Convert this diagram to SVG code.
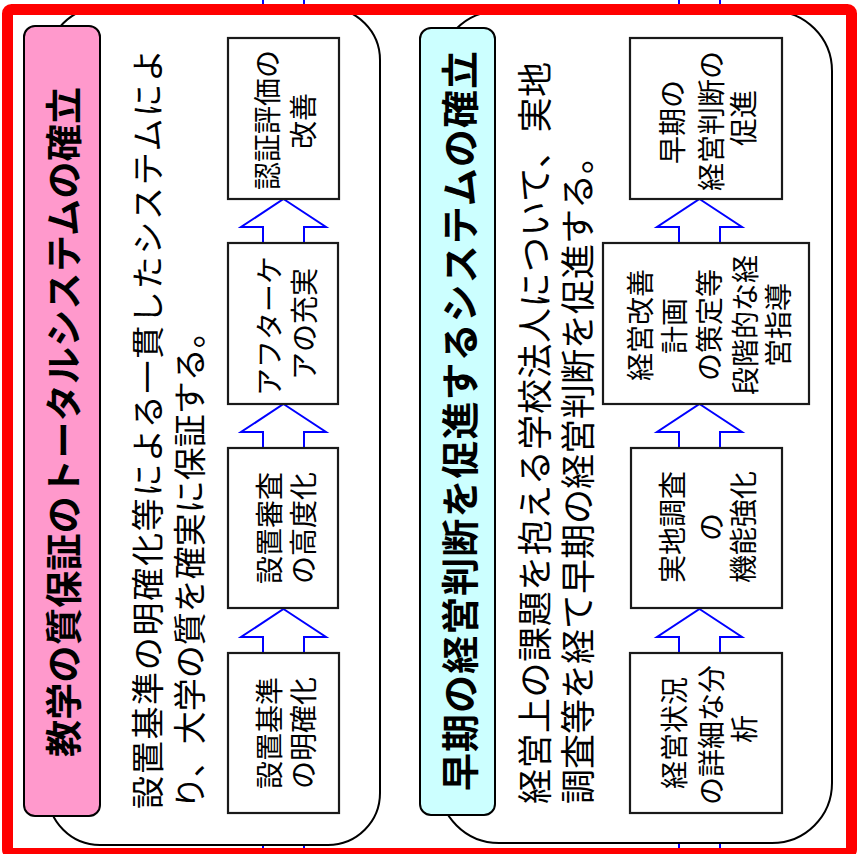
<svg xmlns="http://www.w3.org/2000/svg" width="858" height="854" viewBox="0 0 858 854">
<style>
.panel{fill:#fff;stroke:#000;stroke-width:2}
.box{fill:#fff;stroke:#1a1a1a;stroke-width:2.2}
.arrow{fill:#fff;stroke:#0000ff;stroke-width:2}
.stub{stroke:#0000ff;stroke-width:2}
.t{font-family:"Noto Sans CJK JP","Noto Sans CJK SC",sans-serif;fill:#000;dominant-baseline:central}
.title{font-size:37px;font-weight:700;text-anchor:middle}
.body{font-size:33px;text-anchor:start}
.bt{font-size:28px;text-anchor:middle}
</style>
<defs>
<path id="arr" class="arrow" d="M0,0 L42.5,28 L20.5,28 L20.5,44 L-20.5,44 L-20.5,28 L-42.5,28 Z"/>
</defs>
<rect width="858" height="854" fill="#fff"/>
<g id="stubs">
<line class="stub" x1="263" y1="0" x2="263" y2="16"/>
<line class="stub" x1="304" y1="0" x2="304" y2="16"/>
<line class="stub" x1="263" y1="838" x2="263" y2="854"/>
<line class="stub" x1="304" y1="838" x2="304" y2="854"/>
<line class="stub" x1="679" y1="0" x2="679" y2="16"/>
<line class="stub" x1="720" y1="0" x2="720" y2="16"/>
<line class="stub" x1="679" y1="838" x2="679" y2="854"/>
<line class="stub" x1="720" y1="838" x2="720" y2="854"/>
</g>
<g id="panel-left">
<rect class="panel" x="48" y="8" width="332" height="837" rx="52" ry="52"/>
</g>
<g id="panel-right">
<rect class="panel" x="439" y="11" width="393" height="832" rx="60" ry="60"/>
</g>
<g id="title-left">
<rect x="24" y="26" width="76" height="790" rx="11" ry="11" fill="#ff99cc" stroke="#000" stroke-width="2"/>
<text class="t title" transform="translate(62,422) rotate(-90)" textLength="670" lengthAdjust="spacing">教学の質保証のトータルシステムの確立</text>
</g>
<g id="title-right">
<rect x="420" y="28" width="75" height="787" rx="11" ry="11" fill="#ccffff" stroke="#000" stroke-width="2"/>
<text class="t title" style="font-size:38px" transform="translate(457,421) rotate(-90)" textLength="740" lengthAdjust="spacing">早期の経営判断を促進するシステムの確立</text>
</g>
<g id="desc-left">
<text class="t body" transform="translate(146,809) rotate(-90)" textLength="760" lengthAdjust="spacing">設置基準の明確化等による一貫したシステムによ</text>
<text class="t body" transform="translate(188,809) rotate(-90)">り、大学の質を確実に保証する。</text>
</g>
<g id="desc-right">
<text class="t body" style="font-size:35px" transform="translate(532,804) rotate(-90)" textLength="742" lengthAdjust="spacing">経営上の課題を抱える学校法人について、実地</text>
<text class="t body" style="font-size:35px" transform="translate(575,804) rotate(-90)">調査等を経て早期の経営判断を促進する。</text>
</g>
<g id="connectors">
<use href="#arr" transform="translate(283.5,609)"/>
<use href="#arr" transform="translate(283.5,404)"/>
<use href="#arr" transform="translate(283.5,199)"/>
<use href="#arr" transform="translate(699.5,609)"/>
<use href="#arr" transform="translate(699.5,404)"/>
<use href="#arr" transform="translate(699.5,199)"/>
</g>
<g id="box-l1">
<rect class="box" x="228" y="653" width="111" height="160"/>
<text class="t bt" transform="translate(268,733) rotate(-90)">設置基準</text>
<text class="t bt" transform="translate(302,733) rotate(-90)">の明確化</text>
</g>
<g id="box-l2">
<rect class="box" x="228" y="448" width="110" height="160"/>
<text class="t bt" transform="translate(268,528) rotate(-90)">設置審査</text>
<text class="t bt" transform="translate(302,528) rotate(-90)">の高度化</text>
</g>
<g id="box-l3">
<rect class="box" x="228" y="243" width="110" height="161"/>
<text class="t bt" transform="translate(268,326) rotate(-90)">アフターケ</text>
<text class="t bt" transform="translate(303,324) rotate(-90)">アの充実</text>
</g>
<g id="box-l4">
<rect class="box" x="228" y="38" width="111" height="161"/>
<text class="t bt" transform="translate(266,120) rotate(-90)">認証評価の</text>
<text class="t bt" transform="translate(302,121) rotate(-90)">改善</text>
</g>
<g id="box-r1">
<rect class="box" x="630" y="653" width="152" height="160"/>
<text class="t bt" transform="translate(673,733) rotate(-90)">経営状況</text>
<text class="t bt" transform="translate(710,735) rotate(-90)">の詳細な分</text>
<text class="t bt" transform="translate(743,729) rotate(-90)">析</text>
</g>
<g id="box-r2">
<rect class="box" x="631" y="448" width="151" height="160"/>
<text class="t bt" transform="translate(671,527) rotate(-90)">実地調査</text>
<text class="t bt" transform="translate(710,527) rotate(-90)">の</text>
<text class="t bt" transform="translate(742,527) rotate(-90)">機能強化</text>
</g>
<g id="box-r3">
<rect class="box" x="603" y="243" width="206" height="161"/>
<text class="t bt" transform="translate(639,325) rotate(-90)">経営改善</text>
<text class="t bt" transform="translate(673,326) rotate(-90)">計画</text>
<text class="t bt" transform="translate(708,325) rotate(-90)">の策定等</text>
<text class="t bt" transform="translate(744,325) rotate(-90)">段階的な経</text>
<text class="t bt" transform="translate(777,325) rotate(-90)">営指導</text>
</g>
<g id="box-r4">
<rect class="box" x="630" y="38" width="152" height="161"/>
<text class="t bt" transform="translate(671,122) rotate(-90)">早期の</text>
<text class="t bt" transform="translate(710,121) rotate(-90)">経営判断の</text>
<text class="t bt" transform="translate(742,118) rotate(-90)">促進</text>
</g>
<g id="frame">
<rect x="7.5" y="9.5" width="844" height="844" rx="4" ry="4" fill="none" stroke="#ff0000" stroke-width="11"/>
</g>
</svg>
